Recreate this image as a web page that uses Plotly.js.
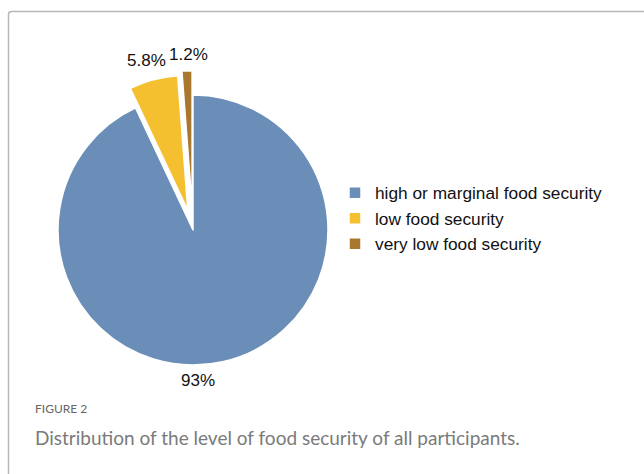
<!DOCTYPE html>
<html>
<head>
<meta charset="utf-8">
<script src="https://cdn.plot.ly/plotly-3.0.1.min.js"></script>
<style>html,body{margin:0;padding:0;background:#fff;}#chart{width:644px;height:474px;}</style>
</head>
<body>
<div id="chart"></div>
<script>
const categories = ["high or marginal food security", "low food security", "very low food security"];
const values = [93, 5.8, 1.2];
const labelsText = ["93%", "5.8%", "1.2%"];
const colors = ["#6a8eb7", "#f4c030", "#a8782f"];
const pulls = [0, 0.15, 0.18];

const W = 644, H = 474;
const cx = 193, cy = 230, R = 135;
const half = R * (1 + Math.max(...pulls));
const labelFont = {family: "Liberation Sans, Arial, sans-serif", size: 17, color: "#111"};

const trace = {
  type: "pie",
  labels: categories,
  values: values,
  textinfo: "none",
  sort: false,
  direction: "clockwise",
  rotation: 0,
  pull: pulls,
  marker: {colors: colors, line: {color: "#ffffff", width: 1.5}},
  domain: {x: [(cx - half) / W, (cx + half) / W], y: [(H - (cy + half)) / H, (H - (cy - half)) / H]},
  hoverinfo: "label+percent"
};

// data labels placed from slice angles (derived from values)
const total = values.reduce((a, b) => a + b, 0);
let cum = 0;
const labelAnns = values.map((v, i) => {
  const midFrac = (cum + v / 2) / total;
  cum += v;
  let ang = midFrac * 2 * Math.PI;
  let r = R * 1.15 + 20;
  let dx = 0;
  if (i === 0) { ang = Math.PI * 0.99; r = R + 16; } // large slice label sits under the pie
  if (i === 1) dx = -1.5;
  if (i === 2) dx = 2;
  const px = cx + r * Math.sin(ang) + dx;
  const py = cy - r * Math.cos(ang);
  return {text: labelsText[i], xref: "paper", yref: "paper", x: px / W, y: 1 - py / H,
          xanchor: "center", yanchor: "middle", showarrow: false, font: labelFont};
});

const layout = {
  width: W, height: H,
  margin: {l: 0, r: 0, t: 0, b: 0},
  paper_bgcolor: "#ffffff",
  showlegend: true,
  legend: {
    x: 335 / W, y: (H - 175) / H, xanchor: "left", yanchor: "top",
    font: {family: "Liberation Sans, Arial, sans-serif", size: 17.3, color: "#111"},
    bgcolor: "rgba(0,0,0,0)", tracegroupgap: 0
  },
  shapes: [
    {type: "path", xref: "paper", yref: "paper",
     path: `M ${8.5/W} 0 L ${8.5/W} ${(H-14)/H} Q ${8.5/W} ${(H-11.5)/H} ${12/W} ${(H-11.5)/H} L 1.01 ${(H-11.5)/H}`,
     line: {color: "#b8b8b8", width: 1.5}}
  ],
  annotations: labelAnns.concat([
    {text: "FIGURE 2", xref: "paper", yref: "paper", x: 33 / W, y: (H - 408) / H,
     xanchor: "left", yanchor: "middle", showarrow: false,
     font: {family: "Lato, Open Sans, sans-serif", size: 12, color: "#666666"}},
    {text: "Distribution of the level of food security of all participants.", xref: "paper", yref: "paper",
     x: 33 / W, y: (H - 437) / H, xanchor: "left", yanchor: "middle", showarrow: false,
     font: {family: "Lato, Open Sans, sans-serif", size: 19, color: "#7a7a7a"}}
  ])
};

Plotly.newPlot("chart", [trace], layout, {displayModeBar: false, staticPlot: true});
</script>
</body>
</html>
